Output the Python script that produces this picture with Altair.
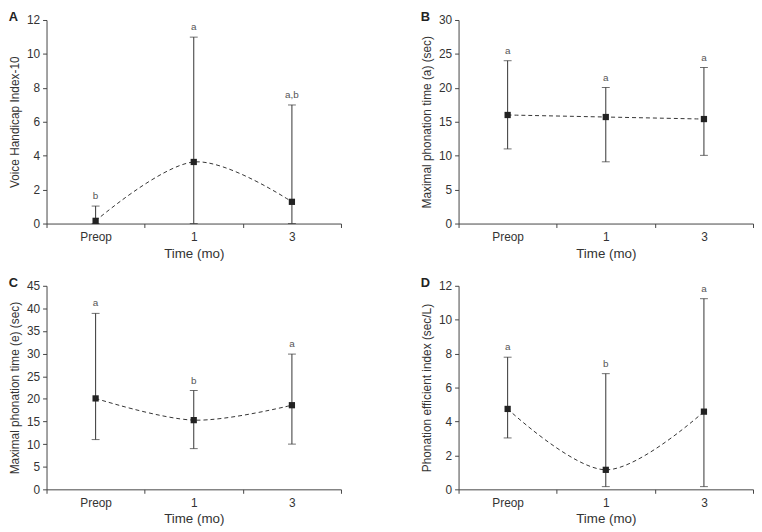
import altair as alt
import pandas as pd

times = ["Preop", "1", "3"]

# Panel A: Voice Handicap Index-10
a_mean = [0.16, 3.63, 1.28]
a_lo = [0.0, 0.0, 0.0]
a_hi = [1.03, 10.99, 6.99]
a_lab = ["b", "a", "a,b"]

# Panel B: Maximal phonation time (a)
b_mean = [16.0, 15.7, 15.4]
b_lo = [11.0, 9.1, 10.05]
b_hi = [24.0, 20.05, 23.0]
b_lab = ["a", "a", "a"]

# Panel C: Maximal phonation time (e)
c_mean = [20.1, 15.3, 18.6]
c_lo = [11.0, 9.0, 10.0]
c_hi = [38.9, 21.85, 29.9]
c_lab = ["a", "b", "a"]

# Panel D: Phonation efficient index
d_mean = [4.74, 1.15, 4.58]
d_lo = [3.03, 0.16, 0.16]
d_hi = [7.79, 6.82, 11.24]
d_lab = ["a", "b", "a"]

FONT = "Liberation Sans"
DARK = "#333333"
W, H = 298, 206


def panel(letter, ytitle, ymax, step, mean, lo, hi, lab):
    df = pd.DataFrame({"time": times, "mean": mean, "lo": lo, "hi": hi, "lab": lab})
    x = alt.X(
        "time:N",
        sort=times,
        scale=alt.Scale(type="band", paddingInner=0, paddingOuter=0),
        axis=alt.Axis(title="Time (mo)", labelAngle=0, tickBand="extent", labelPadding=4,
                      titlePadding=4, titleFontSize=13.5),
    )
    tvals = list(range(0, ymax + 1, step))
    yscale = alt.Scale(domain=[0, ymax], nice=False, zero=True)
    yaxis = alt.Axis(title=ytitle, values=tvals, tickCount=len(tvals), titlePadding=5,
                     labelPadding=3, labelOverlap=False)

    def Y(field):
        return alt.Y(field, scale=yscale, axis=yaxis, title=ytitle)

    base = alt.Chart(df)
    rule = base.mark_rule(color=DARK, strokeWidth=1).encode(x=x, y=Y("lo:Q"), y2="hi:Q")
    cap_hi = base.mark_tick(color=DARK, size=8, thickness=1, orient="horizontal").encode(x=x, y=Y("hi:Q"))
    cap_lo = base.mark_tick(color=DARK, size=8, thickness=1, orient="horizontal").encode(x=x, y=Y("lo:Q"))
    line = base.mark_line(color=DARK, strokeWidth=1, strokeDash=[4, 3], interpolate="cardinal").encode(
        x=x, y=Y("mean:Q")
    )
    pts = base.mark_point(shape="square", filled=True, size=40, color="#222222", opacity=1).encode(
        x=x, y=Y("mean:Q")
    )
    txt = base.mark_text(font=FONT, fontSize=10, color="#555555", baseline="bottom", dy=-5).encode(
        x=x, y=Y("hi:Q"), text="lab:N"
    )
    return alt.layer(rule, cap_hi, cap_lo, line, pts, txt).properties(
        width=W,
        height=H,
        title=alt.TitleParams(letter, anchor="start", frame="bounds", fontSize=13, fontWeight="bold",
                              font=FONT, color="#222222", offset=-10),
    )


pA = panel("A", "Voice Handicap Index-10", 12, 2, a_mean, a_lo, a_hi, a_lab)
pB = panel("B", "Maximal phonation time (a) (sec)", 30, 5, b_mean, b_lo, b_hi, b_lab)
pC = panel("C", "Maximal phonation time (e) (sec)", 45, 5, c_mean, c_lo, c_hi, c_lab)
pD = panel("D", "Phonation efficient index (sec/L)", 12, 2, d_mean, d_lo, d_hi, d_lab)

chart = alt.vconcat(
    alt.hconcat(pA, pB, spacing=79),
    alt.hconcat(pC, pD, spacing=79),
    spacing=17,
).properties(padding=0).configure_view(stroke=None).configure_axis(
    grid=False,
    domainColor="#444444",
    tickColor="#444444",
    tickSize=4,
    labelFont=FONT,
    titleFont=FONT,
    labelFontSize=12,
    titleFontSize=12,
    titleFontWeight="normal",
    labelColor="#333333",
    titleColor="#333333",
)

chart.save("out.html", embed_options={"renderer": "svg", "actions": False})
